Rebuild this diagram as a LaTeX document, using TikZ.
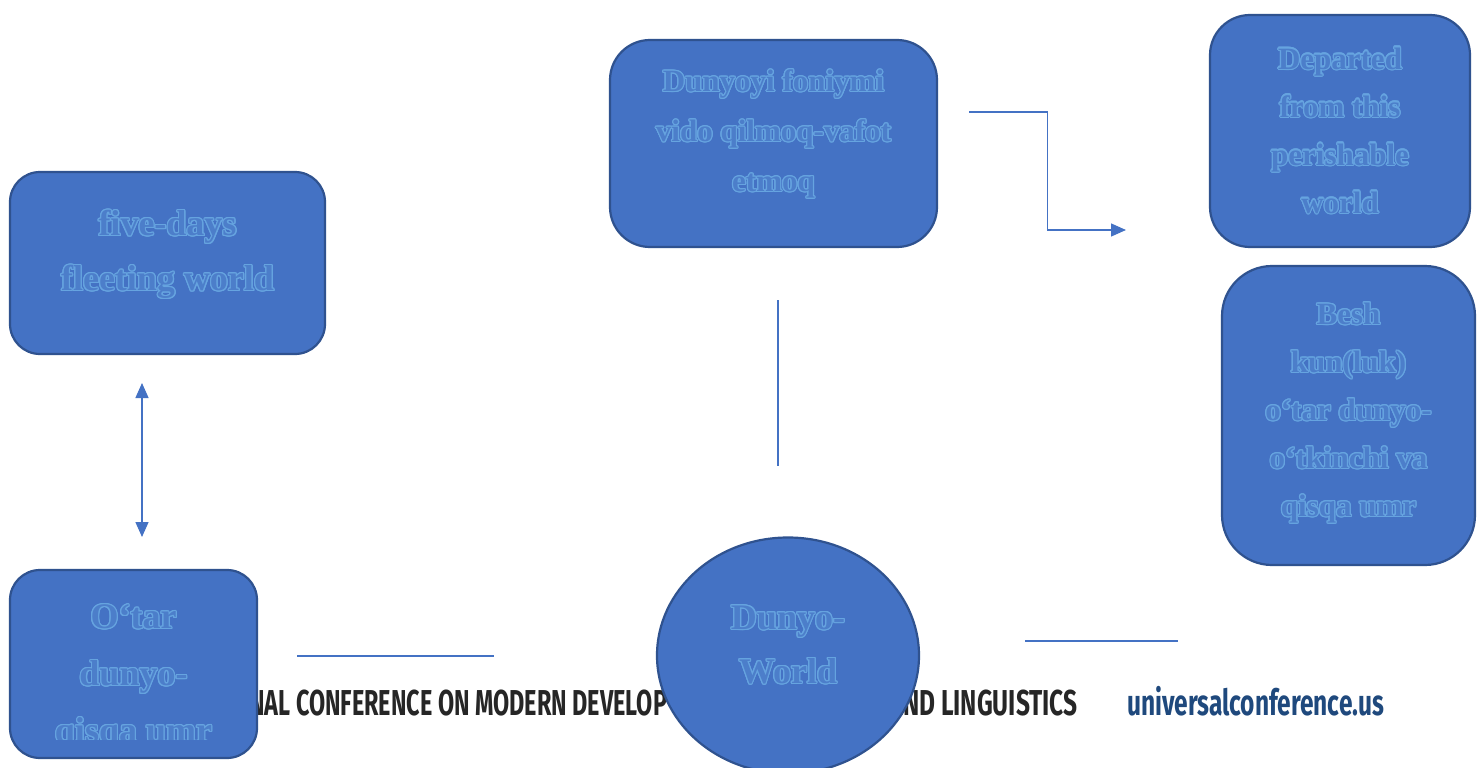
\documentclass[tikz,border=0pt]{standalone}
\usepackage{fontspec}
\setmainfont{Liberation Serif}
\newfontfamily\footfont{Fira Sans}[FakeStretch=0.65]
\newfontfamily\sitefont{Fira Sans}[FakeStretch=0.68]
\usepackage{contour}
\contourlength{1.2pt}
\usetikzlibrary{arrows.meta,positioning,shapes.geometric,calc}
\definecolor{boxblue}{RGB}{68,114,196}
\definecolor{boxedge}{RGB}{47,82,143}
\definecolor{txtline}{RGB}{102,164,224}
\definecolor{txtfill}{RGB}{76,126,202}
\definecolor{footgray}{RGB}{38,38,38}
\definecolor{footblue}{RGB}{31,73,125}
\newcommand{\outl}[1]{\contour{txtline}{\textcolor{txtfill}{#1}}}
\tikzset{box/.style={draw=boxedge,fill=boxblue,line width=2.2pt,inner sep=0pt},
         txt/.style={align=center,inner sep=0pt,font=\bfseries},
         conn/.style={draw=boxblue,line width=1.4pt},
         tip/.style={-{Triangle[length=15pt,width=13pt]}}}

\begin{document}
\begin{tikzpicture}[x=1pt,y=-1pt,
  foot/.style={inner sep=0pt,font=\footfont\bfseries\fontsize{36}{36}\selectfont},
  footw/.style={inner sep=0pt,font=\sitefont\bfseries\fontsize{36}{36}\selectfont}]
\useasboundingbox (0,0) rectangle (1481,768);
\fill[white] (0,0) rectangle (1481,768);
\node[foot,footgray,anchor=base west] (conf1) at (249,715) {NAL CONFERENCE ON MODERN DEVELOP};
\node[footw,footgray,anchor=base east] (conf2) at (1078,715) {AND LINGUISTICS};
\node[footw,footblue,anchor=base west] (site) at (1127,715) {universalconference.us};
\node[box,rounded corners=30pt,minimum width=315pt,minimum height=182pt,
  label={[txt,yshift=8pt,font=\bfseries\fontsize{36}{55}\selectfont]center:{\outl{five-days}\\\outl{fleeting world}}}] (days) at (167.5,263) {};
\node[box,rounded corners=40pt,minimum width=327pt,minimum height=207pt,
  label={[txt,yshift=9pt,font=\bfseries\fontsize{31}{50}\selectfont]center:{\outl{Dunyoyi foniymi}\\\outl{vido qilmoq-vafot}\\\outl{etmoq}}}] (vido) at (773.5,143.5) {};
\node[box,rounded corners=40pt,minimum width=260pt,minimum height=232pt,
  label={[txt,font=\bfseries\fontsize{31}{48}\selectfont]center:{\outl{Departed}\\\outl{from this}\\\outl{perishable}\\\outl{world}}}] (departed) at (1340,131) {};
\node[box,rounded corners=50pt,minimum width=253pt,minimum height=299pt,
  label={[txt,yshift=2pt,font=\bfseries\fontsize{31}{48}\selectfont]center:{\outl{Besh}\\\outl{kun(luk)}\\\outl{o‘tar dunyo-}\\\outl{o‘tkinchi va}\\\outl{qisqa umr}}}] (besh) at (1348.5,415.5) {};
\node[box,rounded corners=30pt,minimum width=247pt,minimum height=188pt] (otar) at (133.5,664) {};
\begin{scope}
\clip (10,570) rectangle (257,739);
\node[txt,font=\bfseries\fontsize{36}{57}\selectfont] (otar-t) at (133.5,678) {\outl{O‘tar}\\\outl{dunyo-}\\\outl{qisqa umr}};
\end{scope}
\node[box,ellipse,minimum width=262pt,minimum height=236pt,
  label={[txt,yshift=10pt,font=\bfseries\fontsize{36}{54}\selectfont]center:{\outl{Dunyo-}\\\outl{World}}}] (dunyo) at (788,655.5) {};
\coordinate (el-a) at (969,112);
\coordinate (el-b) at (1126,230);
\draw[conn,tip] (el-a) -| ($(el-a)!0.5!(el-b)$) |- (el-b);
\coordinate (vl-a) at (778,300);
\coordinate (vl-b) at (778,466);
\draw[conn] (vl-a) -- (vl-b);
\coordinate (dl-a) at (142,383);
\coordinate (dl-b) at (142,537);
\draw[conn,{Triangle[length=15pt,width=13pt]}-{Triangle[length=15pt,width=13pt]}] (dl-a) -- (dl-b);
\coordinate (hl-a) at (297,656);
\coordinate (hl-b) at (494,656);
\draw[conn] (hl-a) -- (hl-b);
\coordinate (hr-a) at (1025,641);
\coordinate (hr-b) at (1178,641);
\draw[conn] (hr-a) -- (hr-b);
\end{tikzpicture}
\end{document}
